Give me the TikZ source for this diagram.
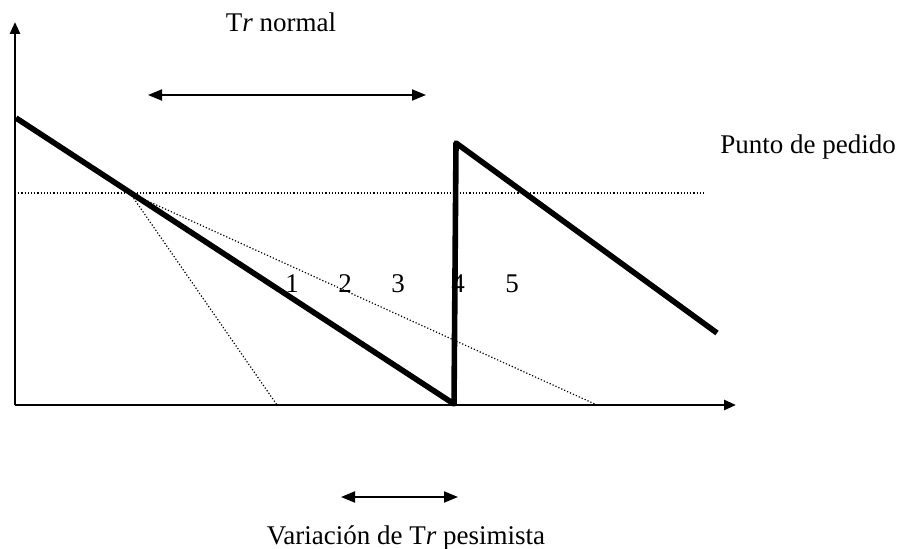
\documentclass[tikz,border=0pt]{standalone}
\usepackage{fontspec}
\setmainfont{Liberation Serif}
\usetikzlibrary{arrows.meta}

\begin{document}
\begin{tikzpicture}[
    x=0.5pt, y=-0.5pt,
    lbl/.style={font=\fontsize{13.5}{16}\selectfont, inner sep=1pt},
    axis/.style={line width=1.3pt, -{Triangle[length=6pt, width=5pt]}},
    stock/.style={line width=2.8pt, line join=round},
    guide/.style={densely dotted, line width=0.6pt},
    span/.style={line width=1pt, {Triangle[length=7pt, width=5.5pt]}-{Triangle[length=7pt, width=5.5pt]}}
  ]
  \useasboundingbox (0,0) rectangle (897,549);

  % axes
  \coordinate (origin) at (15,405);
  \coordinate (ytop) at (15,22);
  \coordinate (xend) at (736,405);
  \draw[axis] (origin) -- (ytop);
  \draw[axis] (origin) -- (xend);

  % reorder point level
  \coordinate (rpleft) at (15,193);
  \coordinate (rpright) at (706,193);
  \draw[guide] (rpleft) -- (rpright);
  \node[lbl] (rplabel) at (808,147) {Punto de pedido};

  % stock curve
  \coordinate (start) at (16,118);
  \coordinate (empty) at (454,404);
  \coordinate (refill) at (456,143);
  \coordinate (stop) at (717,333);
  \coordinate (cross) at (130,193);

  % alternative consumption rates
  \coordinate (fast) at (277,405);
  \coordinate (slow) at (597,405);
  \draw[guide] (cross) -- (fast);
  \draw[guide] (cross) -- (slow);

  % period labels
  \foreach \px [count=\i] in {292,345,398,458,512}
    \node[lbl] (period\i) at (\px,284) {\i};

  \draw[stock] (start) -- (empty) -- (refill) -- (stop);

  % spans
  \node[lbl] (trnormal) at (281,22) {T\textit{r} normal};
  \coordinate (nleft) at (148,95);
  \coordinate (nright) at (426,95);
  \draw[span] (nleft) -- (nright);

  \coordinate (pleft) at (341,497);
  \coordinate (pright) at (458,497);
  \draw[span] (pleft) -- (pright);
  \node[lbl] (trpes) at (406,538) {Variación de T\textit{r} pesimista};
\end{tikzpicture}
\end{document}
